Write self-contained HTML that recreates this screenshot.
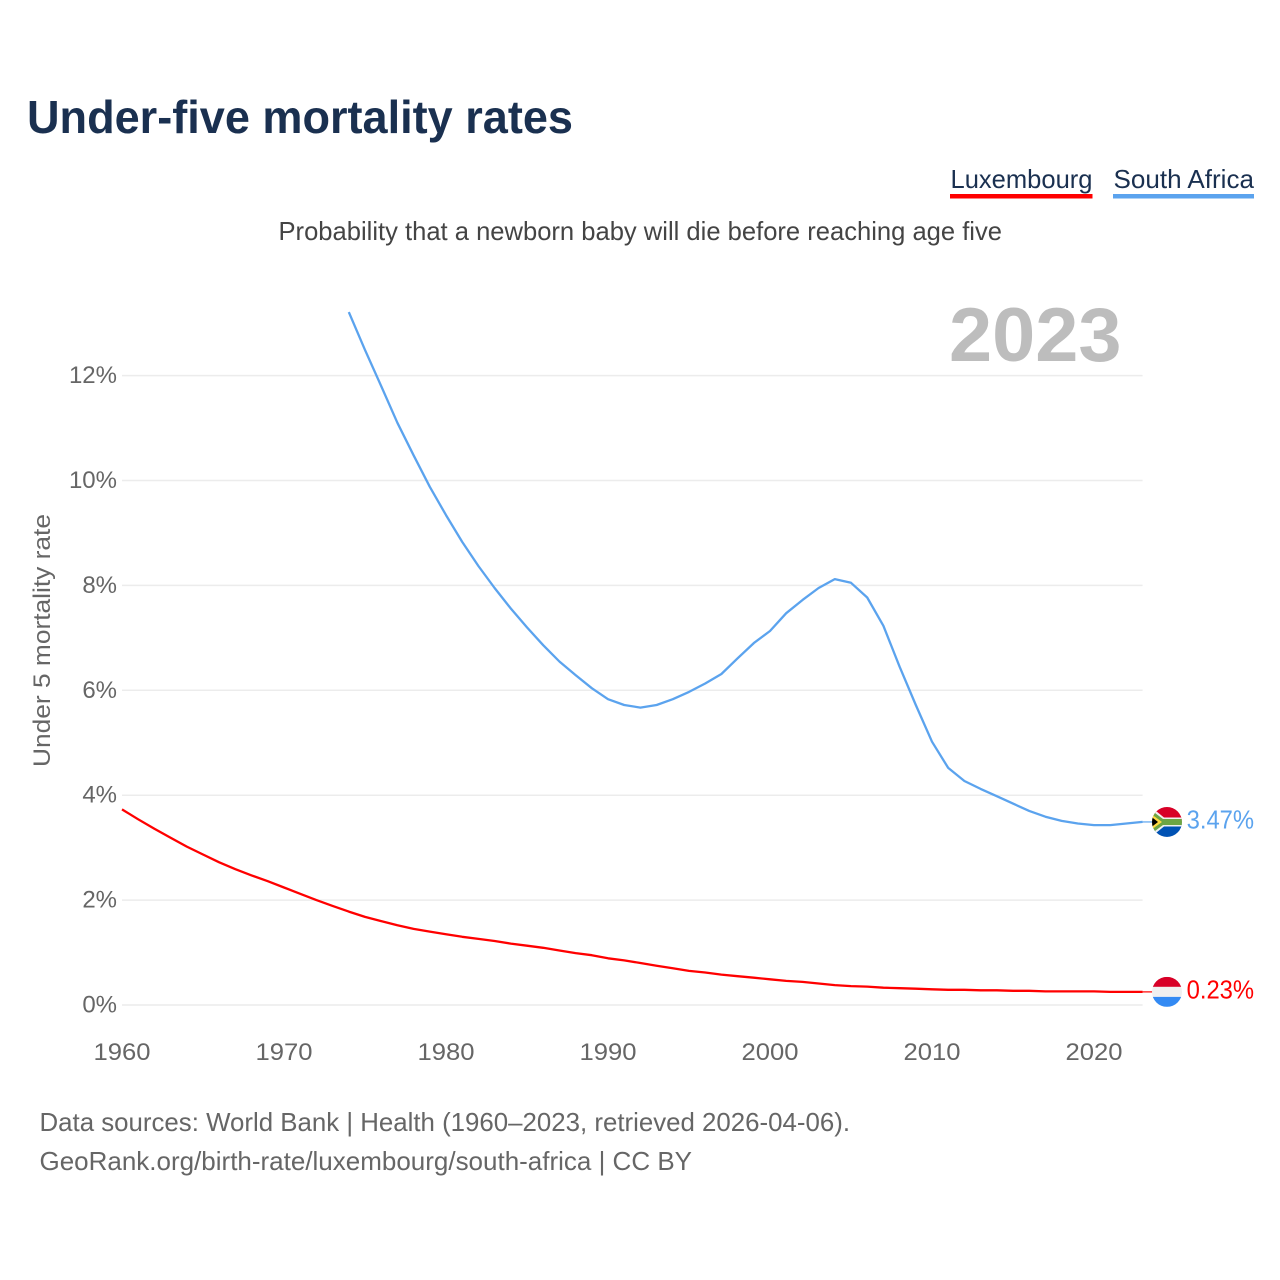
<!DOCTYPE html>
<html lang="en">
<head>
<meta charset="utf-8">
<title>Under-five mortality rates</title>
<style>
html,body{margin:0;padding:0;background:#fff;}
svg{display:block;font-family:"Liberation Sans",sans-serif;}
</style>
</head>
<body>
<svg id="chart" width="1280" height="1280" viewBox="0 0 1280 1280" xmlns="http://www.w3.org/2000/svg">
  <defs>
    <clipPath id="flag-clip"><circle cx="0" cy="0" r="15"/></clipPath>
  </defs>
  <rect x="0" y="0" width="1280" height="1280" fill="#fff"/>
  <text x="27" y="133" font-size="46" font-weight="700" fill="#1a3050" textLength="546" lengthAdjust="spacingAndGlyphs">Under-five mortality rates</text>

  <g>
    <text x="950.5" y="188" font-size="26" fill="#1a3050" textLength="142" lengthAdjust="spacingAndGlyphs">Luxembourg</text>
    <rect x="950" y="194" width="142.5" height="4.5" fill="#ff0000"/>
  </g>
  <g>
    <text x="1113.5" y="188" font-size="26" fill="#1a3050" textLength="140.5" lengthAdjust="spacingAndGlyphs">South Africa</text>
    <rect x="1113" y="194" width="141" height="4.5" fill="#5ba3ee"/>
  </g>

  <text x="278.5" y="240" font-size="26" fill="#444" textLength="723.5" lengthAdjust="spacingAndGlyphs">Probability that a newborn baby will die before reaching age five</text>

  <g id="grid"></g>

  <text x="949" y="361" font-size="76" font-weight="700" fill="#bdbdbd" textLength="172.5" lengthAdjust="spacingAndGlyphs">2023</text>

  <g id="y-ticks"></g>
  <g id="x-ticks"></g>

  <text transform="translate(50,767) rotate(-90)" x="0" y="0" font-size="24" fill="#666" textLength="253" lengthAdjust="spacingAndGlyphs">Under 5 mortality rate</text>

  <line id="connector-lux" stroke="#ff0000" stroke-width="1.2"/>
  <line id="connector-zaf" stroke="#5ba3ee" stroke-width="1.2"/>
  <path id="line-lux" fill="none" stroke="#ff0000" stroke-width="2.3" stroke-linejoin="round"/>
  <path id="line-zaf" fill="none" stroke="#5ba3ee" stroke-width="2.3" stroke-linejoin="round"/>

  <g id="flag-zaf">
    <g clip-path="url(#flag-clip)">
      <rect x="-15" y="-15" width="30" height="15" fill="#d80027"/>
      <rect x="-15" y="0" width="30" height="15" fill="#0052b4"/>
      <path d="M-16,-15 L-3,-4.5 L15,-4.5 L15,4.5 L-3,4.5 L-16,15 Z" fill="#f0f0f0"/>
      <path d="M-16,-12 L-4,-3 L15,-3 L15,3 L-4,3 L-16,12 Z" fill="#6da544"/>
      <path d="M-16,-8 L-5,0 L-16,8 Z" fill="#ffda44"/>
      <path d="M-16,-5.5 L-9,0 L-16,5.5 Z" fill="#000"/>
    </g>
  </g>
  <g id="flag-lux">
    <g clip-path="url(#flag-clip)">
      <rect x="-15" y="-15" width="30" height="10" fill="#d80027"/>
      <rect x="-15" y="-5" width="30" height="10" fill="#f0f0f0"/>
      <rect x="-15" y="5" width="30" height="10" fill="#338af3"/>
    </g>
  </g>

  <text id="value-zaf" font-size="26" fill="#5ba3ee" textLength="67.5" lengthAdjust="spacingAndGlyphs"></text>
  <text id="value-lux" font-size="26" fill="#ff0000" textLength="67.5" lengthAdjust="spacingAndGlyphs"></text>

  <text x="39.5" y="1131" font-size="26" fill="#666" textLength="810.5" lengthAdjust="spacingAndGlyphs">Data sources: World Bank | Health (1960–2023, retrieved 2026-04-06).</text>
  <text x="39.5" y="1170" font-size="26" fill="#666" textLength="652.5" lengthAdjust="spacingAndGlyphs">GeoRank.org/birth-rate/luxembourg/south-africa | CC BY</text>
</svg>
<script>
const firstYear = 1960;
const lastYear = 2023;
const xTickYears = [1960, 1970, 1980, 1990, 2000, 2010, 2020];
const yTickValues = [0, 2, 4, 6, 8, 10, 12];
const luxembourgValues = [
  3.73, 3.54, 3.36, 3.19, 3.02, 2.87, 2.72, 2.59, 2.47, 2.36,
  2.24, 2.12, 2.00, 1.89, 1.78, 1.68, 1.60, 1.52, 1.45, 1.40,
  1.35, 1.30, 1.26, 1.22, 1.17, 1.13, 1.09, 1.04, 0.99, 0.95,
  0.89, 0.85, 0.80, 0.75, 0.70, 0.65, 0.62, 0.58, 0.55, 0.52,
  0.49, 0.46, 0.44, 0.41, 0.38, 0.36, 0.35, 0.33, 0.32, 0.31,
  0.30, 0.29, 0.29, 0.28, 0.28, 0.27, 0.27, 0.26, 0.26, 0.26,
  0.26, 0.25, 0.25, 0.25
];
const southAfricaValues = [
  null, null, null, null, null, null, null, null, null, null,
  null, null, null, null, 13.21, 12.49, 11.80, 11.10, 10.48, 9.88,
  9.34, 8.83, 8.37, 7.95, 7.56, 7.20, 6.86, 6.55, 6.29, 6.04,
  5.83, 5.72, 5.67, 5.72, 5.83, 5.97, 6.13, 6.31, 6.61, 6.90,
  7.13, 7.47, 7.72, 7.95, 8.12, 8.05, 7.77, 7.23, 6.45, 5.72,
  5.02, 4.52, 4.27, 4.12, 3.98, 3.84, 3.70, 3.59, 3.51, 3.46,
  3.43, 3.43, 3.46, 3.49
];
const luxembourgLabel = "0.23%";
const southAfricaLabel = "3.47%";

const NS = "http://www.w3.org/2000/svg";
function xScale(year) { return 122 + (year - firstYear) * 16.2; }
function yScale(value) { return 1005 - value * 52.45; }

function linePath(values) {
  let d = "";
  values.forEach(function (v, i) {
    if (v === null) return;
    d += (d ? " L" : "M") + xScale(firstYear + i).toFixed(1) + "," + yScale(v).toFixed(1);
  });
  return d;
}

const gridGroup = document.getElementById("grid");
const yTickGroup = document.getElementById("y-ticks");
const xTickGroup = document.getElementById("x-ticks");

yTickValues.forEach(function (v) {
  const line = document.createElementNS(NS, "line");
  
  
  line.setAttribute("x1", xScale(firstYear));
  line.setAttribute("x2", xScale(lastYear));
  line.setAttribute("y1", yScale(v));
  line.setAttribute("y2", yScale(v));
  line.setAttribute("stroke", "#ececec");
  line.setAttribute("stroke-width", "1.5");
  gridGroup.appendChild(line);

  const label = document.createElementNS(NS, "text");
  
  
  label.setAttribute("x", 117);
  label.setAttribute("y", yScale(v) + 7.5);
  label.setAttribute("text-anchor", "end");
  label.setAttribute("font-size", "24");
  label.setAttribute("fill", "#666");
  label.textContent = v + "%";
  yTickGroup.appendChild(label);
});

xTickYears.forEach(function (year) {
  const label = document.createElementNS(NS, "text");
  
  
  label.setAttribute("x", xScale(year) - 28.5);
  label.setAttribute("y", 1060);
  label.setAttribute("font-size", "24");
  label.setAttribute("fill", "#666");
  label.setAttribute("textLength", "57");
  label.setAttribute("lengthAdjust", "spacingAndGlyphs");
  label.textContent = String(year);
  xTickGroup.appendChild(label);
});

document.getElementById("line-lux").setAttribute("d", linePath(luxembourgValues));
document.getElementById("line-zaf").setAttribute("d", linePath(southAfricaValues));

const endX = xScale(lastYear);
const luxEndY = yScale(luxembourgValues[luxembourgValues.length - 1]);
const zafEndY = yScale(southAfricaValues[southAfricaValues.length - 1]);

const luxConnector = document.getElementById("connector-lux");
luxConnector.setAttribute("x1", endX);
luxConnector.setAttribute("x2", endX + 10);
luxConnector.setAttribute("y1", luxEndY);
luxConnector.setAttribute("y2", luxEndY);

const zafConnector = document.getElementById("connector-zaf");
zafConnector.setAttribute("x1", endX);
zafConnector.setAttribute("x2", endX + 10);
zafConnector.setAttribute("y1", zafEndY);
zafConnector.setAttribute("y2", zafEndY);

document.getElementById("flag-lux").setAttribute("transform", "translate(" + (endX + 24.4) + "," + luxEndY + ")");
document.getElementById("flag-zaf").setAttribute("transform", "translate(" + (endX + 24.4) + "," + zafEndY + ")");

const luxValueLabel = document.getElementById("value-lux");
luxValueLabel.setAttribute("x", endX + 44);
luxValueLabel.setAttribute("y", luxEndY + 6.5);
luxValueLabel.textContent = luxembourgLabel;

const zafValueLabel = document.getElementById("value-zaf");
zafValueLabel.setAttribute("x", endX + 44);
zafValueLabel.setAttribute("y", zafEndY + 6.5);
zafValueLabel.textContent = southAfricaLabel;
</script>
</body>
</html>
